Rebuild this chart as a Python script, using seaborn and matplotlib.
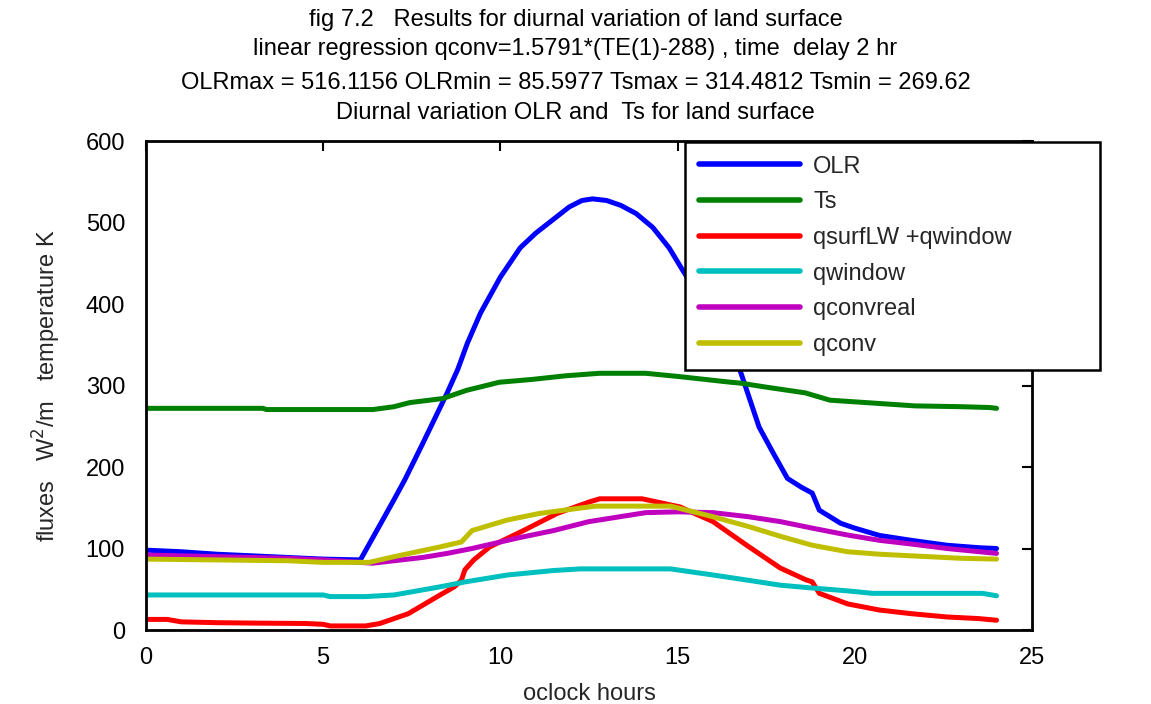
import matplotlib
matplotlib.use("Agg")
import matplotlib.pyplot as plt
import seaborn as sns
import pandas as pd

# ---------------- data ----------------
olr_h = [0, 1, 2, 3, 4, 5, 6.05, 6.5, 7.0, 7.3, 7.8, 8.5, 8.8, 9.07, 9.44, 10.0, 10.56, 11.0,
         11.94, 12.3, 12.6, 13.0, 13.4, 13.83, 14.3, 14.76, 15.15, 15.6, 16.0, 16.4, 16.76,
         17.3, 17.7, 18.1, 18.5, 18.8, 19.0, 19.6, 20.0, 20.7, 21.6, 22.6, 23.5, 24.0]
olr_v = [98, 96, 93, 91, 89, 87, 86, 121, 160, 184, 228, 291, 320, 352, 389, 433, 469, 487,
         519, 527, 529, 527, 521, 511, 494, 469, 441, 410, 383, 352, 319,
         249, 217, 186, 175, 168, 147, 131, 125, 116, 110, 104, 101, 100]

ts_h = [0, 3.3, 3.4, 6.4, 7.0, 7.44, 8.37, 9.04, 9.97, 10.9, 11.86, 12.8, 14.1, 15.04, 16.5,
        16.76, 17.5, 18.6, 19.3, 20.5, 21.7, 23.0, 23.8, 24.0]
ts_v = [272, 272, 270.5, 270.5, 274, 279, 284, 294, 304, 307.5, 312, 315, 315, 311, 304,
        303, 298, 291, 282, 278.5, 275, 274, 273, 272]

qsw_h = [0, 0.6, 1.0, 2.0, 3.0, 4.5, 5.0, 5.2, 6.2, 6.6, 7.4, 8.3, 8.7, 8.9, 9.0, 9.25, 9.7,
         10.65, 11.6, 12.5, 12.8, 14.0, 15.07, 16.0, 16.95, 17.9, 18.6, 18.8, 19.0, 19.8,
         20.7, 21.6, 22.6, 23.5, 24.0]
qsw_v = [13, 13, 10, 9, 8.5, 8, 7, 5, 5, 8, 20, 43, 53, 61, 74, 86, 102,
         122, 143, 157, 161, 161, 151, 133, 104, 76, 62, 59, 45, 32,
         24.5, 20, 16, 14, 12]

qw_h = [0, 5.0, 5.2, 6.2, 7.0, 8.3, 9.0, 10.2, 11.5, 12.25, 14.8, 16.0, 17.0, 17.9, 18.8,
        19.8, 20.5, 23.6, 24.0]
qw_v = [43, 43, 41, 41, 43, 53, 59, 67.5, 73, 75, 75, 67.5, 61, 55, 51.5,
        48, 45, 45, 42]

qcr_h = [0, 2, 4, 5, 6.4, 7.8, 8.5, 9.2, 10.5, 11.5, 12.5, 14.1, 15.0, 16.0, 17.0, 17.9,
         18.8, 19.8, 20.7, 21.6, 22.6, 24.0]
qcr_v = [92, 90, 88, 86, 82, 89, 94, 100, 113, 122, 133, 144, 145, 144, 139, 133,
         125, 116.5, 110, 105.5, 100, 94]

qc_h = [0, 2, 4, 5, 6.3, 7.0, 8.3, 8.9, 9.2, 10.2, 11.1, 12.5, 12.7, 14.8, 16.0, 17.0, 17.9,
        18.8, 19.8, 20.7, 21.6, 23.0, 24.0]
qc_v = [87, 86, 85, 83, 83, 90, 102, 108, 122, 135, 143, 151, 152, 152, 139, 127, 115,
        104, 96, 93, 91, 88, 87]

series_names = ["OLR", "Ts", "qsurfLW +qwindow", "qwindow", "qconvreal", "qconv"]
series_colors = ["#0000FF", "#008000", "#FF0000", "#00BFBF", "#BF00BF", "#BFBF00"]

title_lines = [
    "fig 7.2   Results for diurnal variation of land surface",
    "linear regression qconv=1.5791*(TE(1)-288) , time  delay 2 hr",
    "OLRmax = 516.1156 OLRmin = 85.5977 Tsmax = 314.4812 Tsmin = 269.62",
    "Diurnal variation OLR and  Ts for land surface",
]
xlabel = "oclock hours"
ylabel = r"fluxes   W$^{2}$/m   temperature K"
x_ticks = [0, 5, 10, 15, 20, 25]
y_ticks = [0, 100, 200, 300, 400, 500, 600]

# ---------------- build table ----------------
pairs = [(olr_h, olr_v), (ts_h, ts_v), (qsw_h, qsw_v), (qw_h, qw_v), (qcr_h, qcr_v), (qc_h, qc_v)]
frames = []
for name, (h, v) in zip(series_names, pairs):
    frames.append(pd.DataFrame({"hour": h, "value": v, "series": name}))
df = pd.concat(frames, ignore_index=True)

# ---------------- plot ----------------
sns.set_theme(style="white")
plt.rcParams["font.family"] = ["Liberation Sans Narrow", "Liberation Sans", "DejaVu Sans"]

fig = plt.figure(figsize=(11.51, 7.04), dpi=100)
ax = fig.add_axes([0.1268, 0.1051, 0.7698, 0.6946])

sns.lineplot(data=df, x="hour", y="value", hue="series", hue_order=series_names,
             palette=dict(zip(series_names, series_colors)), estimator=None,
             linewidth=3.6, ax=ax, legend=True)

ax.set_xlim(0, 25)
ax.set_ylim(0, 600)
ax.set_xticks(x_ticks)
ax.set_yticks(y_ticks)
ax.tick_params(axis="both", direction="in", length=7, width=1.5, top=True, right=True,
               labelsize=17, colors="black")
ax.tick_params(axis="y", pad=15)
ax.tick_params(axis="x", pad=12)
for s in ax.spines.values():
    s.set_visible(True)
    s.set_color("black")
    s.set_linewidth(2)

ax.set_xlabel(xlabel, fontsize=17, labelpad=10)
ax.set_ylabel(ylabel, fontsize=17, labelpad=16)

title_y_px = [20, 49, 83, 113]
for line, ypx in zip(title_lines, title_y_px):
    fig.text(0.5, 1 - ypx / 704, line, ha="center", va="center", fontsize=17, color="black")

leg = ax.legend(loc="upper left", bbox_to_anchor=(0.608, 0.999, 0.469, 0.0), mode="expand",
                frameon=True, fontsize=17, handlelength=4.3, handletextpad=0.55,
                labelspacing=0.58, borderpad=0.6, borderaxespad=0, fancybox=False,
                framealpha=1)
leg.get_frame().set_edgecolor("black")
leg.get_frame().set_linewidth(1.8)
for line in leg.get_lines():
    line.set_linewidth(4)

fig.savefig("out.png", dpi=100)
